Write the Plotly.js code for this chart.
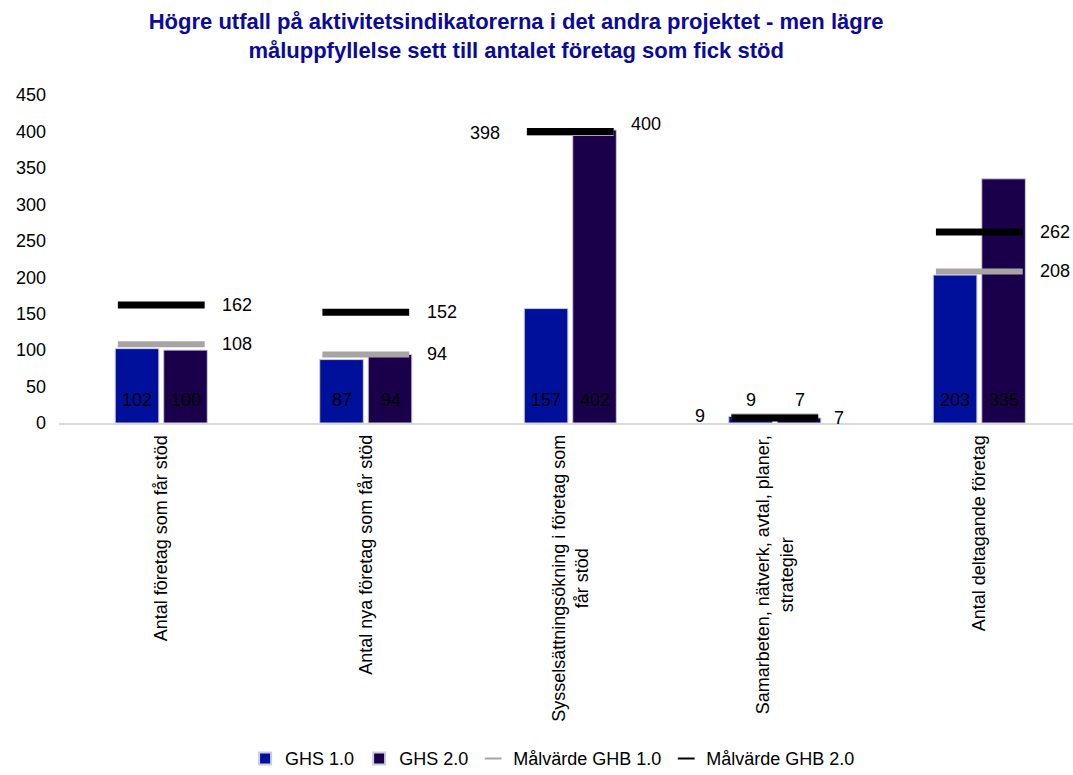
<!DOCTYPE html>
<html>
<head>
<meta charset="utf-8">
<script src="https://cdn.plot.ly/plotly-3.0.1.min.js"></script>
<style>html,body{margin:0;padding:0;background:#fff;}#chart{width:1073px;height:775px;}</style>
</head>
<body>
<div id="chart"></div>
<script>
const categories = [
  "Antal företag som får stöd",
  "Antal nya företag som får stöd",
  "Sysselsättningsökning i företag som<br>får stöd",
  "Samarbeten, nätverk, avtal, planer,<br>strategier",
  "Antal deltagande företag"
];
const ghs1 = [102, 87, 157, 9, 203];
const ghs2 = [100, 94, 402, 7, 335];
const target1 = [108, 94, 398, 9, 208];
const target2 = [162, 152, 400, 7, 262];
const seriesNames = ["GHS 1.0", "GHS 2.0", "Målvärde GHB 1.0", "Målvärde GHB 2.0"];
const yTicks = [0, 50, 100, 150, 200, 250, 300, 350, 400, 450];

const FONT = "Liberation Sans, Arial, sans-serif";
const barLine = {color: "rgba(205,205,225,1)", width: 1};

const traces = [
  {type: "bar", name: seriesNames[0], x: categories, y: ghs1,
   marker: {color: "#00109A", line: barLine}, hoverinfo: "y"},
  {type: "bar", name: seriesNames[1], x: categories, y: ghs2,
   marker: {color: "#1A004A", line: barLine}, hoverinfo: "y"},
  {type: "scatter", mode: "markers", name: seriesNames[2], x: categories, y: target1,
   marker: {symbol: "line-ew", size: 62, color: "#A8A4A4", line: {color: "#A8A4A4", width: 6}}},
  {type: "scatter", mode: "markers", name: seriesNames[3], x: categories, y: target2,
   marker: {symbol: "line-ew", size: 62, color: "#000000", line: {color: "#000000", width: 7}}}
];

const annotations = [];
const labFont = {family: FONT, size: 18, color: "#000"};
// bar value labels near the base
categories.forEach((c, i) => {
  annotations.push({x: c, y: 0, xref: "x", yref: "y", text: String(ghs1[i]), showarrow: false,
    xanchor: "center", yanchor: "middle", xshift: -24, yshift: 23, font: labFont});
  annotations.push({x: c, y: 0, xref: "x", yref: "y", text: String(ghs2[i]), showarrow: false,
    xanchor: "center", yanchor: "middle", xshift: 25, yshift: 23, font: labFont});
});
// target labels
const t1Side = ["right", "right", "left", "left", "right"];
const t2Shift = [0, 0, 7, 0, 0];
categories.forEach((c, i) => {
  const left = t1Side[i] === "left";
  annotations.push({x: c, y: target1[i], xref: "x", yref: "y", text: String(target1[i]), showarrow: false,
    xanchor: left ? "right" : "left", yanchor: "middle", xshift: left ? -68 : 59, font: labFont});
  annotations.push({x: c, y: target2[i], xref: "x", yref: "y", text: String(target2[i]), showarrow: false,
    xanchor: "left", yanchor: "middle", xshift: i === 3 ? 57 : 59, yshift: t2Shift[i], font: labFont});
});
// category labels (rotated, centered lines)
categories.forEach((c) => {
  annotations.push({x: c, y: 0, xref: "x", yref: "y", text: c, showarrow: false, textangle: -90,
    align: "center", xanchor: "center", yanchor: "top", yshift: -10, font: labFont});
});

const layout = {
  width: 1073, height: 775,
  margin: {l: 59, r: 0, t: 95, b: 352},
  paper_bgcolor: "#fff", plot_bgcolor: "#fff",
  font: {family: FONT, size: 18, color: "#000"},
  title: {
    text: "<b>Högre utfall på aktivitetsindikatorerna i det andra projektet - men lägre<br>måluppfyllelse sett till antalet företag som fick stöd</b>",
    font: {family: FONT, size: 22, color: "#0A0A9C"},
    x: 0.481, xanchor: "center", xref: "container",
    y: 0.962, yanchor: "top", yref: "container"
  },
  barmode: "group", bargap: 0.526, bargroupgap: 0.1,
  xaxis: {type: "category", range: [-0.5, 4.458], showticklabels: false, ticks: "",
    showline: true, linecolor: "#D9D9D9", linewidth: 2, showgrid: false, zeroline: false, fixedrange: true},
  yaxis: {range: [0, 450], tickvals: yTicks, ticktext: yTicks.map(String), showgrid: false, zeroline: false,
    showline: false, ticks: "", ticklabelstandoff: 12, tickfont: {family: FONT, size: 18, color: "#000"}, fixedrange: true},
  legend: {orientation: "h", x: 0.515, xref: "container", xanchor: "center", y: 0.021, yref: "container", yanchor: "middle",
    font: {family: FONT, size: 18, color: "#000"}, traceorder: "normal", itemwidth: 30, itemsizing: "constant"},
  annotations: annotations,
  showlegend: true
};

Plotly.newPlot("chart", traces, layout, {displayModeBar: false, staticPlot: true});
</script>
</body>
</html>
